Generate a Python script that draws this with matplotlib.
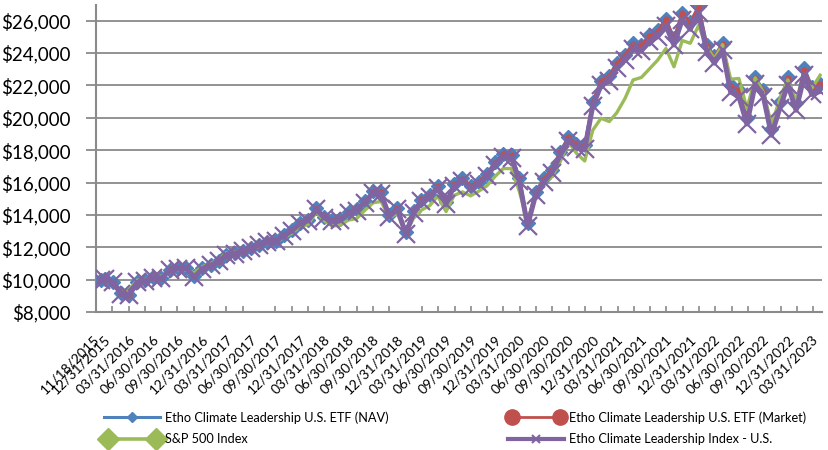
import matplotlib
matplotlib.use("Agg")
import matplotlib.pyplot as plt
import matplotlib.dates as mdates
from matplotlib.lines import Line2D
from matplotlib.legend_handler import HandlerLine2D
from matplotlib.ticker import FuncFormatter
import numpy as np
import pandas as pd

# ---------------- data ----------------
dates = [pd.Timestamp("2015-11-18")] + list(pd.date_range("2015-11-30", "2023-03-31", freq="ME"))

nav = [10000, 10020, 9880, 9150, 9060, 9850, 9950, 10150, 10120, 10620, 10700, 10720, 10200, 10700, 10900,
       11150, 11550, 11620, 11800, 11950, 12150, 12350, 12400, 12750, 13050, 13500, 13700,
       14400, 13900, 13700, 13750, 14200, 14350, 14850, 15450, 15400, 14000, 14450, 12950,
       14250, 14950, 15200, 15800, 14800, 15900, 16250, 15800, 16050, 16550, 17250, 17750,
       17700, 16300, 13500, 15400, 16250, 16800, 17900, 18800, 18400, 18300, 21000, 22300,
       22600, 23400, 23900, 24600, 24500, 25100, 25400, 26100, 24900, 26500, 25900, 26900,
       24500, 23800, 24600, 22000, 21700, 20000, 22500, 21700, 19300, 21000, 22500, 20900,
       23100, 21900, 22100]

market = [10000, 10030, 9870, 9160, 9050, 9860, 9950, 10140, 10110, 10630, 10700, 10710, 10210, 10690, 10890,
          11160, 11540, 11630, 11790, 11960, 12140, 12360, 12390, 12760, 13040, 13500, 13690,
          14390, 13910, 13680, 13760, 14190, 14340, 14850, 15420, 15390, 14010, 14430, 12970,
          14240, 14960, 15190, 15790, 14810, 15880, 16240, 15810, 16040, 16540, 17230, 17740,
          17690, 16280, 13560, 15380, 16240, 16790, 17880, 18790, 18390, 18290, 20980, 22280,
          22590, 23380, 23880, 24580, 24480, 25080, 25380, 26080, 24880, 26480, 25880, 26850,
          24480, 23780, 24580, 21980, 21690, 19990, 22480, 21680, 19310, 20990, 22480, 20880,
          22980, 21880, 22080]

sp500 = [10000, 9990, 9832, 9344, 9332, 9965, 10004, 10184, 10210, 10587, 10602, 10604, 10411, 10796, 11010,
         11219, 11664, 11678, 11798, 11964, 12038, 12286, 12324, 12578, 12871, 13266, 13413,
         14182, 13659, 13312, 13363, 13685, 13770, 14282, 14747, 14831, 13817, 14099, 12826,
         13853, 14298, 14575, 15165, 14202, 15203, 15422, 15178, 15462, 15798, 16371, 16866,
         16859, 15472, 13561, 15300, 16028, 16347, 17269, 18511, 17807, 17334, 19232, 19970,
         19769, 20314, 21204, 22337, 22493, 23017, 23565, 24281, 23152, 24775, 24604, 25706,
         24377, 23648, 24525, 22387, 22427, 20577, 22474, 21557, 19572, 21157, 22340, 21053,
         22375, 21829, 22630]

index_us = [10000, 10010, 9870, 9120, 9030, 9830, 9930, 10130, 10090, 10600, 10680, 10700, 10170, 10680, 10880,
            11130, 11530, 11600, 11780, 11930, 12120, 12320, 12370, 12720, 13010, 13460, 13650,
            14340, 13830, 13630, 13680, 14120, 14270, 14760, 15350, 15300, 13900, 14350, 12850,
            14140, 14830, 15080, 15670, 14680, 15770, 16110, 15660, 15900, 16400, 17090, 17580,
            17520, 16120, 13330, 15220, 16060, 16600, 17680, 18570, 18170, 18060, 20720, 22000,
            22290, 23070, 23560, 24240, 24140, 24720, 25010, 25690, 24500, 26070, 25470, 26450,
            24080, 23380, 24160, 21600, 21300, 19620, 22070, 21280, 18920, 20580, 22040, 20470,
            22620, 21440, 21630]

tick_labels = ["11/18/2015", "12/31/2015",
               "03/31/2016", "06/30/2016", "09/30/2016", "12/31/2016",
               "03/31/2017", "06/30/2017", "09/30/2017", "12/31/2017",
               "03/31/2018", "06/30/2018", "09/30/2018", "12/31/2018",
               "03/31/2019", "06/30/2019", "09/30/2019", "12/31/2019",
               "03/31/2020", "06/30/2020", "09/30/2020", "12/31/2020",
               "03/31/2021", "06/30/2021", "09/30/2021", "12/31/2021",
               "03/31/2022", "06/30/2022", "09/30/2022", "12/31/2022",
               "03/31/2023"]

series_names = ["Etho Climate Leadership U.S. ETF (NAV)",
                "Etho Climate Leadership U.S. ETF (Market)",
                "S&P 500 Index",
                "Etho Climate Leadership Index - U.S."]

# ---------------- style ----------------
FONT = ["Lato", "DejaVu Sans"]
plt.rcParams["font.family"] = FONT

C_BLUE = "#4F81BD"
C_RED = "#C0504D"
C_GREEN = "#9BBB59"
C_PURPLE = "#8064A2"
C_GRID = "#8A8A8A"

W, H = 829, 450
fig = plt.figure(figsize=(W / 100, H / 100), dpi=100)
ax = fig.add_axes([96 / W, 1 - 312 / H, (822 - 96) / W, (312 - 4.5) / H])

x = mdates.date2num(dates)

ax.plot(x, nav, color=C_BLUE, lw=2.2, marker="D", ms=7.5, mec=C_BLUE, mfc=C_BLUE, zorder=3)
ax.plot(x, market, color=C_RED, lw=2.0, marker="o", ms=3.5, mec=C_RED, mfc=C_RED, zorder=4)
ax.plot(x, sp500, color=C_GREEN, lw=2.4, zorder=5)
ax.plot(x, index_us, color=C_PURPLE, lw=3.6, marker="x", ms=13, mew=1.6, mec=C_PURPLE, zorder=6)

# y axis
ax.set_ylim(8000, 27000)
ax.set_yticks(np.arange(8000, 26001, 2000))
ax.yaxis.set_major_formatter(FuncFormatter(lambda v, p: "${:,.0f}".format(v)))
ax.yaxis.grid(True, color=C_GRID, lw=1.3)
ax.set_axisbelow(True)
ax.tick_params(axis="y", direction="out", length=7.5, width=1.3, color=C_GRID,
               labelsize=13.5, pad=11, labelcolor="black")

# x axis
left = mdates.date2num(pd.Timestamp("2015-10-29"))
right = mdates.date2num(pd.Timestamp("2023-04-07"))
ax.set_xlim(left, right)
label_pos = mdates.date2num(pd.to_datetime(tick_labels, format="%m/%d/%Y"))
ax.set_xticks(label_pos)
ax.set_xticklabels(tick_labels, rotation=45, ha="right", va="top", fontsize=10)
ax.tick_params(axis="x", which="major", length=0, pad=15)
ax.set_xticks(np.arange(left, right + 1, 61), minor=True)
ax.tick_params(axis="x", which="minor", direction="in", length=4, width=1.2, color=C_GRID)

for s in ["top", "right"]:
    ax.spines[s].set_visible(False)
for s in ["left", "bottom"]:
    ax.spines[s].set_color(C_GRID)
    ax.spines[s].set_linewidth(1.5)

# ---------------- legend ----------------
h_nav = Line2D([], [], color=C_BLUE, lw=2.2, marker="D", ms=5.5, mfc=C_BLUE, mec=C_BLUE)
h_mkt = Line2D([], [], color=C_RED, lw=2.0, marker="o", ms=11, mfc=C_RED, mec=C_RED)
h_sp = Line2D([], [], color=C_GREEN, lw=2.6, marker="D", ms=11, mfc=C_GREEN, mec=C_GREEN)
h_idx = Line2D([], [], color=C_PURPLE, lw=3.0, marker="x", ms=6, mew=1.5, mec=C_PURPLE)

entries = [(h_nav, series_names[0], 104, 417.5, 1),
           (h_mkt, series_names[1], 508, 417.5, 2),
           (h_sp, series_names[2], 104, 439, 2),
           (h_idx, series_names[3], 508, 439, 1)]
for h, lab, lx, ly, npts in entries:
    fig.legend(handles=[h], labels=[lab], loc="center left",
               bbox_to_anchor=(lx / W, 1 - ly / H), frameon=False,
               borderpad=0, borderaxespad=0, fontsize=9.2,
               handlelength=4.4, handletextpad=0.4,
               handler_map={h: HandlerLine2D(numpoints=npts)})

fig.savefig("out.png", dpi=100)
